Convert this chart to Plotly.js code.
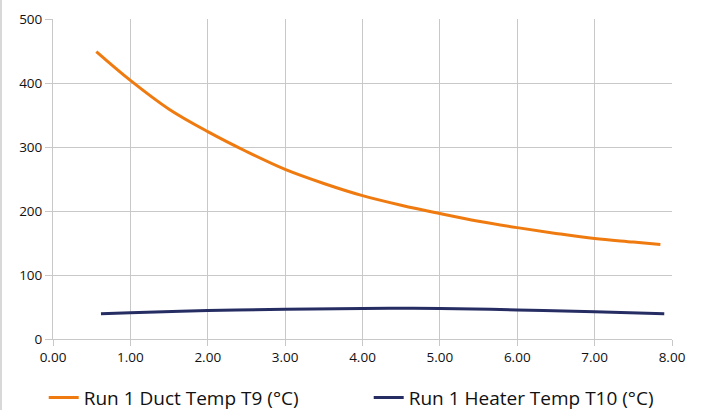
<!DOCTYPE html>
<html>
<head>
<meta charset="utf-8">
<script src="https://cdn.plot.ly/plotly-3.0.1.min.js"></script>
<style>html,body{margin:0;padding:0;background:#fff;}#chart{width:702px;height:410px;}</style>
</head>
<body>
<div id="chart"></div>
<script>
const ductX = [0.56, 1.0, 1.5, 2.0, 2.5, 3.0, 3.5, 4.0, 4.5, 5.0, 5.5, 6.0, 6.5, 7.0, 7.5, 7.85];
const ductY = [449, 404, 359, 324, 293, 265, 243, 224, 209, 196, 184, 174, 165, 157, 151.5, 147.5];
const heaterX = [0.62, 1.0, 2.0, 3.0, 4.0, 4.5, 5.0, 6.0, 7.0, 7.9];
const heaterY = [39.5, 41, 44.5, 46.5, 47.8, 48, 47.6, 45.5, 42.5, 39.5];
const seriesNames = ["Run 1 Duct Temp T9 (°C)", "Run 1 Heater Temp T10 (°C)"];
const xTicks = [0, 1, 2, 3, 4, 5, 6, 7, 8];
const xTickText = ["0.00", "1.00", "2.00", "3.00", "4.00", "5.00", "6.00", "7.00", "8.00"];
const yTicks = [0, 100, 200, 300, 400, 500];

const fontFam = "Open Sans, Noto Sans, sans-serif";
const data = [
  {x: ductX, y: ductY, name: seriesNames[0], type: "scatter", mode: "lines",
   line: {color: "#ef7b10", width: 3, shape: "spline", smoothing: 1}},
  {x: heaterX, y: heaterY, name: seriesNames[1], type: "scatter", mode: "lines",
   line: {color: "#262d63", width: 3, shape: "spline"}}
];
const layout = {
  width: 702, height: 410,
  margin: {l: 53, r: 30, t: 19, b: 71, autoexpand: false},
  paper_bgcolor: "#fff", plot_bgcolor: "#fff",
  font: {family: fontFam, color: "#111", size: 13},
  xaxis: {range: [0, 8], tickvals: xTicks, ticktext: xTickText, showgrid: true,
    gridcolor: "#c8c8c8", gridwidth: 1, zeroline: false, showline: true, linecolor: "#c8c8c8",
    ticks: "outside", ticklen: 6, tickcolor: "#c8c8c8", tickfont: {size: 13.5}},
  yaxis: {range: [0, 500], tickvals: yTicks, showgrid: true, gridcolor: "#c8c8c8", gridwidth: 1,
    zeroline: false, showline: true, linecolor: "#c8c8c8", ticks: "outside", ticklen: 7,
    tickcolor: "#c8c8c8", tickfont: {size: 13.5}},
  showlegend: true,
  legend: {orientation: "h", x: -0.015, xanchor: "left", y: -0.124, yanchor: "top",
    font: {size: 19, color: "#111"}, entrywidth: 280, entrywidthmode: "pixels",
    bgcolor: "rgba(0,0,0,0)"},
  shapes: [{type: "line", xref: "paper", yref: "paper", x0: -52/619, x1: -52/619, y0: -1, y1: 2,
    line: {color: "#d8d8d8", width: 2}}]
};
Plotly.newPlot("chart", data, layout, {displayModeBar: false, staticPlot: true});
</script>
</body>
</html>
